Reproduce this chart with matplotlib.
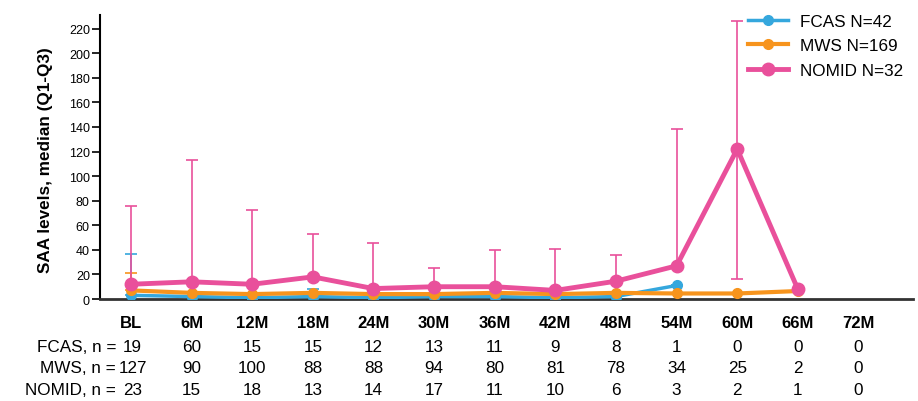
import numpy as np
import matplotlib
matplotlib.use("Agg")
import matplotlib.pyplot as plt
from matplotlib.transforms import blended_transform_factory

plt.rcParams['font.family'] = ['Liberation Sans', 'DejaVu Sans']

categories = ["BL", "6M", "12M", "18M", "24M", "30M", "36M", "42M", "48M", "54M", "60M", "66M", "72M"]
nan = np.nan

fcas_med = [3, 2, 1, 2, 1, 2, 2, 1, 2, 11, nan, nan, nan]
fcas_q1 = [3, 2, 1, 2, 1, 2, 2, 1, 2, 11, nan, nan, nan]
fcas_q3 = [37, 2, 1, 8.5, 1, 2, 2, 1, 2, 11, nan, nan, nan]

mws_med = [7, 5, 4, 5, 4, 4, 5, 4, 5, 4.5, 4.5, 6.5, nan]
mws_q1 = [7, 5, 4, 5, 4, 4, 5, 4, 5, 4.5, 4.5, 6.5, nan]
mws_q3 = [21, 5, 4, 5, 4, 4, 5, 4, 5, 4.5, 4.5, 6.5, nan]

nomid_med = [12, 14, 12, 18, 8.5, 10, 10, 7, 14.5, 27, 122, 8, nan]
nomid_q1 = [12, 14, 12, 18, 8.5, 10, 10, 7, 14.5, 27, 16.5, 8, nan]
nomid_q3 = [76, 113.5, 72.5, 53, 45.5, 25.5, 39.5, 40.5, 35.5, 138, 226, 8, nan]

fcas_n = [19, 60, 15, 15, 12, 13, 11, 9, 8, 1, 0, 0, 0]
mws_n = [127, 90, 100, 88, 88, 94, 80, 81, 78, 34, 25, 2, 0]
nomid_n = [23, 15, 18, 13, 14, 17, 11, 10, 6, 3, 2, 1, 0]

series = [
    ("FCAS N=42", fcas_med, fcas_q1, fcas_q3, "#35a7dd", 2.5, 7),
    ("MWS N=169", mws_med, mws_q1, mws_q3, "#f7941d", 3.0, 7),
    ("NOMID N=32", nomid_med, nomid_q1, nomid_q3, "#e9509b", 3.5, 9),
]

fig = plt.figure(figsize=(9.18, 4.02), dpi=100)
ax = fig.add_axes([0.1089, 0.2537, 0.8857, 0.7063])
x = np.arange(len(categories))

for label, med, q1, q3, color, lw, ms in series:
    med = np.array(med, float)
    lo = med - np.array(q1, float)
    hi = np.array(q3, float) - med
    ax.errorbar(x, med, yerr=[lo, hi], fmt='none', ecolor=color, elinewidth=1.2,
                capsize=4, capthick=1.2, zorder=2)
for label, med, q1, q3, color, lw, ms in series:
    ax.plot(x, med, color=color, lw=lw, marker='o', ms=ms, label=label, zorder=3)

ax.set_xlim(-0.51, 12.9)
ax.set_ylim(0, 231)
ax.set_yticks(np.arange(0, 221, 20))
ax.tick_params(axis='y', labelsize=9, length=5.8, width=1.2, pad=1.5)
ax.set_xticks([])
for s in ['top', 'right']:
    ax.spines[s].set_visible(False)
ax.spines['left'].set_linewidth(1.5)
ax.spines['bottom'].set_linewidth(2)
ax.spines['bottom'].set_color('#333333')
ax.set_ylabel("SAA levels, median (Q1-Q3)", fontsize=12.3, fontweight='bold')
ax.yaxis.set_label_coords(-0.058, 0.491)

trans = blended_transform_factory(ax.transData, ax.transAxes)
for i, c in enumerate(categories):
    ax.text(i, -0.082, c, transform=trans, ha='center', va='center', fontsize=12, fontweight='bold')
rows = [("FCAS, n =", fcas_n, -0.166), ("MWS, n =", mws_n, -0.241), ("NOMID, n =", nomid_n, -0.318)]
for lab, vals, yy in rows:
    ax.text(-0.245, yy, lab, transform=trans, ha='right', va='center', fontsize=12.3)
    for i, v in enumerate(vals):
        ax.text(i + (0.03 if i == 0 else 0), yy, str(v), transform=trans, ha='center', va='center', fontsize=12.3)

leg = ax.legend(loc='upper right', bbox_to_anchor=(1.0, 1.04), frameon=False, fontsize=12.3,
                handlelength=2.3, handletextpad=0.7, labelspacing=0.55, borderaxespad=0.2)

fig.savefig("out.png", dpi=100)
